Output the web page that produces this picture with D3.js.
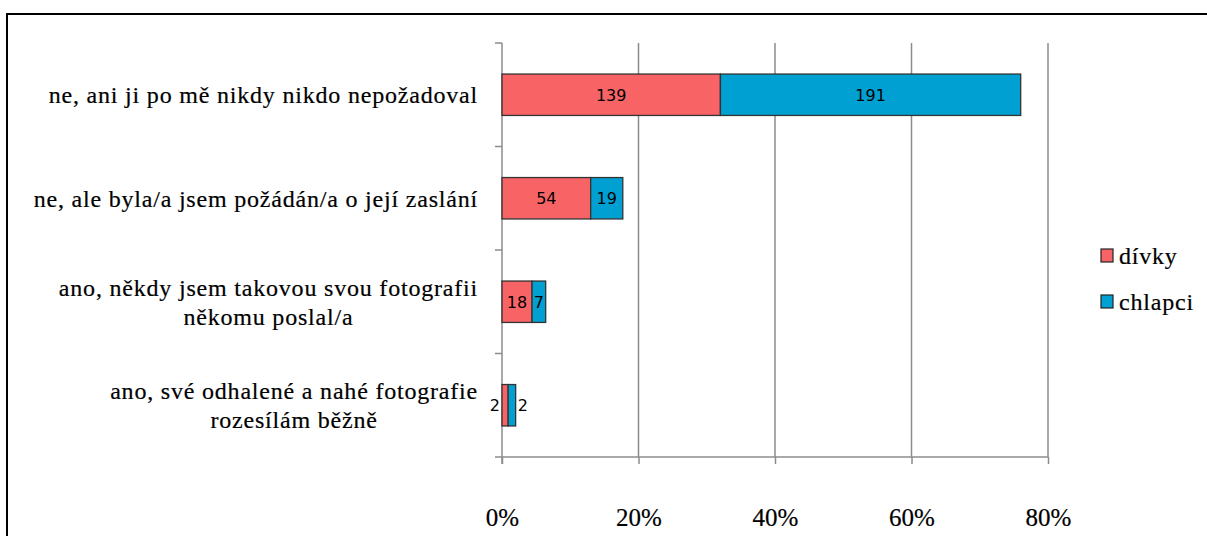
<!DOCTYPE html>
<html>
<head>
<meta charset="utf-8">
<script src="https://cdn.jsdelivr.net/npm/d3@7"></script>
<style>
  body { margin: 0; background: #fff; }
  svg { display: block; }
</style>
</head>
<body>
<script>
// answers (one row per option), two-line labels split on \n
const categories = [
  "ne, ani ji po mě nikdy nikdo nepožadoval",
  "ne, ale byla/a jsem požádán/a o její zaslání",
  "ano, někdy jsem takovou svou fotografii\nněkomu poslal/a",
  "ano, své odhalené a nahé fotografie\nrozesílám běžně"
];
const seriesNames = ["dívky", "chlapci"];
const girlsPct = [32.0, 13.0, 4.4, 0.9];
const boysPct  = [44.0, 4.7, 2.0, 1.1];
const girlsCount = [139, 54, 18, 2];
const boysCount  = [191, 19, 7, 2];
const xTicks = [0, 20, 40, 60, 80];
const colors = ["#f86466", "#00a0d2"];

const w = 1207, h = 536;
const plotL = 502, plotR = 1048, plotT = 43, plotB = 457;
const serif = "'Liberation Serif', 'Times New Roman', serif";

const svg = d3.select("body").append("svg")
  .attr("width", w)
  .attr("height", h);

// outer frame
svg.append("rect")
  .attr("x", 7).attr("y", 14)
  .attr("width", w + 10).attr("height", h + 10)
  .attr("fill", "none")
  .attr("stroke", "#000")
  .attr("stroke-width", 2);

const x = d3.scaleLinear().domain([0, 80]).range([plotL, plotR]);
const y = d3.scaleBand().domain(d3.range(categories.length))
  .range([plotT, plotB]).paddingInner(0.6).paddingOuter(0.3);

const rows = categories.map((c, i) => ({
  i: i, "dívky": girlsPct[i], "chlapci": boysPct[i],
  counts: [girlsCount[i], boysCount[i]]
}));
const stacked = d3.stack().keys(seriesNames)(rows);

// gridlines
svg.append("g").selectAll("line")
  .data(xTicks.slice(1))
  .enter().append("line")
  .attr("x1", d => x(d)).attr("x2", d => x(d))
  .attr("y1", plotT).attr("y2", plotB)
  .attr("stroke", "#8c8c8c").attr("stroke-width", 1.5);

// x axis
const xAxis = d3.axisBottom(x).tickValues(xTicks).tickSize(7).tickPadding(44)
  .tickFormat(d => d + "%");
const gx = svg.append("g")
  .attr("transform", "translate(0," + plotB + ")")
  .call(xAxis);
gx.select(".domain").remove();
gx.selectAll(".tick line").attr("stroke", "#8c8c8c").attr("stroke-width", 1.5);
gx.selectAll("text")
  .attr("font-family", serif)
  .attr("font-size", 25).attr("fill", "#000")
  .attr("stroke", "#000").attr("stroke-width", 0.2);
gx.append("line")
  .attr("x1", plotL - 7).attr("x2", plotR)
  .attr("stroke", "#8c8c8c").attr("stroke-width", 1.5);

// y axis line + category boundary ticks
svg.append("line")
  .attr("x1", plotL).attr("x2", plotL).attr("y1", plotT).attr("y2", plotB + 7)
  .attr("stroke", "#8c8c8c").attr("stroke-width", 1.5);
const step = y.step();
svg.append("g").selectAll("line")
  .data(d3.range(categories.length))
  .enter().append("line")
  .attr("x1", plotL - 7).attr("x2", plotL)
  .attr("y1", d => plotT + d * step).attr("y2", d => plotT + d * step)
  .attr("stroke", "#8c8c8c").attr("stroke-width", 1.5);

// category labels
const catG = svg.append("g")
  .attr("font-family", serif)
  .attr("font-size", 24)
  .attr("letter-spacing", 0.8)
  .attr("fill", "#000")
  .attr("stroke", "#000").attr("stroke-width", 0.2);
categories.forEach((c, i) => {
  const lines = c.split("\n");
  const cy = y(i) + y.bandwidth() / 2;
  const lh = 29;
  const t = catG.append("text");
  lines.forEach((l, k) => {
    t.append("tspan")
      .attr("y", cy + (k - (lines.length - 1) / 2) * lh)
      .attr("dy", "0.35em")
      .text(l);
  });
  const widths = t.selectAll("tspan").nodes().map(n => n.getComputedTextLength());
  const maxW = d3.max(widths);
  const rightEdge = 478;
  t.attr("text-anchor", "middle");
  t.selectAll("tspan").attr("x", rightEdge - maxW / 2);
});

// bars
const layers = svg.append("g").selectAll("g")
  .data(stacked)
  .enter().append("g")
  .attr("fill", (d, k) => colors[k]);

layers.selectAll("rect")
  .data(d => d)
  .enter().append("rect")
  .attr("x", d => x(d[0]))
  .attr("y", d => y(d.data.i))
  .attr("width", d => x(d[1]) - x(d[0]))
  .attr("height", y.bandwidth())
  .attr("stroke", "#333")
  .attr("stroke-width", 1.3);

// value labels
stacked.forEach((layer, k) => {
  layer.forEach(d => {
    const x0 = x(d[0]), x1 = x(d[1]);
    const wd = x1 - x0;
    let tx = (x0 + x1) / 2, anchor = "middle";
    if (wd < 12) {
      if (k === 0) { tx = x0 - 2; anchor = "end"; }
      else { tx = x1 + 2; anchor = "start"; }
    }
    svg.append("text")
      .attr("x", tx)
      .attr("y", y(d.data.i) + y.bandwidth() / 2)
      .attr("dy", "0.36em")
      .attr("text-anchor", anchor)
      .attr("font-family", "'DejaVu Sans', sans-serif")
      .attr("font-size", 16)
      .attr("fill", "#000")
      .text(d.data.counts[k]);
  });
});

// legend
const leg = svg.append("g")
  .attr("transform", "translate(1101,249)");
seriesNames.forEach((s, k) => {
  const g = leg.append("g").attr("transform", "translate(0," + (k * 46) + ")");
  g.append("rect")
    .attr("width", 12).attr("height", 13)
    .attr("fill", colors[k])
    .attr("stroke", "#222").attr("stroke-width", 1.2);
  g.append("text")
    .attr("x", 18).attr("y", 7)
    .attr("dy", "0.35em")
    .attr("font-family", serif)
    .attr("font-size", 24)
    .attr("letter-spacing", 0.8)
    .attr("fill", "#000")
    .attr("stroke", "#000").attr("stroke-width", 0.2)
    .text(s);
});
</script>
</body>
</html>
